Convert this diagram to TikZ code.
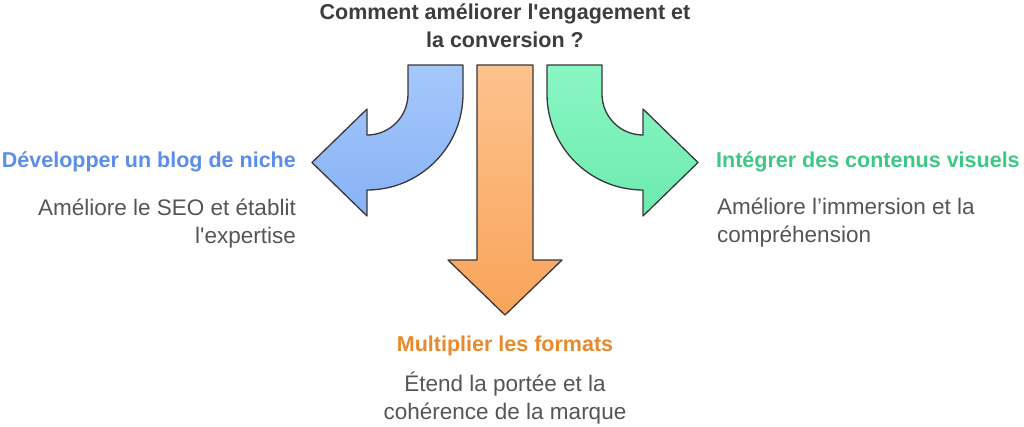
\documentclass[tikz,border=0pt]{standalone}
\usepackage{fontspec}
\setmainfont{Liberation Sans}[Ligatures=TeXOff]
\definecolor{titlegray}{HTML}{3D3D3D}
\definecolor{descgray}{HTML}{555555}
\definecolor{blueT}{HTML}{5B8DEA}
\definecolor{greenT}{HTML}{3CC985}
\definecolor{orangeT}{HTML}{E8892E}
\definecolor{blueA}{HTML}{A5C7FB}
\definecolor{blueB}{HTML}{88B2F6}
\definecolor{greenA}{HTML}{8AF6C4}
\definecolor{greenB}{HTML}{6CEBAE}
\definecolor{orangeA}{HTML}{FDC28D}
\definecolor{orangeB}{HTML}{F9A45A}
\definecolor{edge}{HTML}{383838}
\tikzset{
  arrowshape/.style={draw=edge, line width=1.3pt, line join=round},
  headtext/.style={font=\bfseries\fontsize{21.5}{28}\selectfont, inner sep=0pt},
  desctext/.style={font=\fontsize{22.5}{28}\selectfont, text=descgray, inner sep=0pt},
}
\begin{document}
\begin{tikzpicture}[x=1pt,y=1pt]
\useasboundingbox (0,0) rectangle (1024,-426);
% blue arrow
\path[arrowshape, top color=blueA, bottom color=blueB]
  (408,-65) -- (463,-65) -- (463,-94) arc[start angle=0,end angle=-90,radius=96]
  -- (367,-216) -- (312,-162.5) -- (367,-109) -- (367,-135)
  arc[start angle=-90,end angle=0,radius=41] -- cycle;
% green arrow
\path[arrowshape, top color=greenA, bottom color=greenB]
  (602,-65) -- (547,-65) -- (547,-94) arc[start angle=180,end angle=270,radius=96]
  -- (643,-216) -- (698,-162.5) -- (643,-109) -- (643,-135)
  arc[start angle=270,end angle=180,radius=41] -- cycle;
% orange arrow
\path[arrowshape, top color=orangeA, bottom color=orangeB]
  (477,-65) -- (533,-65) -- (533,-260) -- (562,-260) -- (505,-315)
  -- (448,-260) -- (477,-260) -- cycle;
% texts
\node[headtext, text=titlegray, align=center] (title) at (505,-26)
  {Comment améliorer l'engagement et\\la conversion ?};
\node[headtext, text=blueT, anchor=east] (lefthead) at (296,-162) {Développer un blog de niche};
\node[desctext, align=right, anchor=north east] (leftdesc) at (296,-199)
  {Améliore le SEO et établit\\l'expertise};
\node[headtext, text=greenT, anchor=west] (righthead) at (716,-162) {Intégrer des contenus visuels};
\node[desctext, align=left, anchor=north west] (rightdesc) at (717,-198)
  {Améliore l’immersion et la\\compréhension};
\node[headtext, text=orangeT] (bothead) at (505,-346) {Multiplier les formats};
\node[desctext, align=center, anchor=north] (botdesc) at (505,-372)
  {Étend la portée et la\\cohérence de la marque};
\end{tikzpicture}
\end{document}
